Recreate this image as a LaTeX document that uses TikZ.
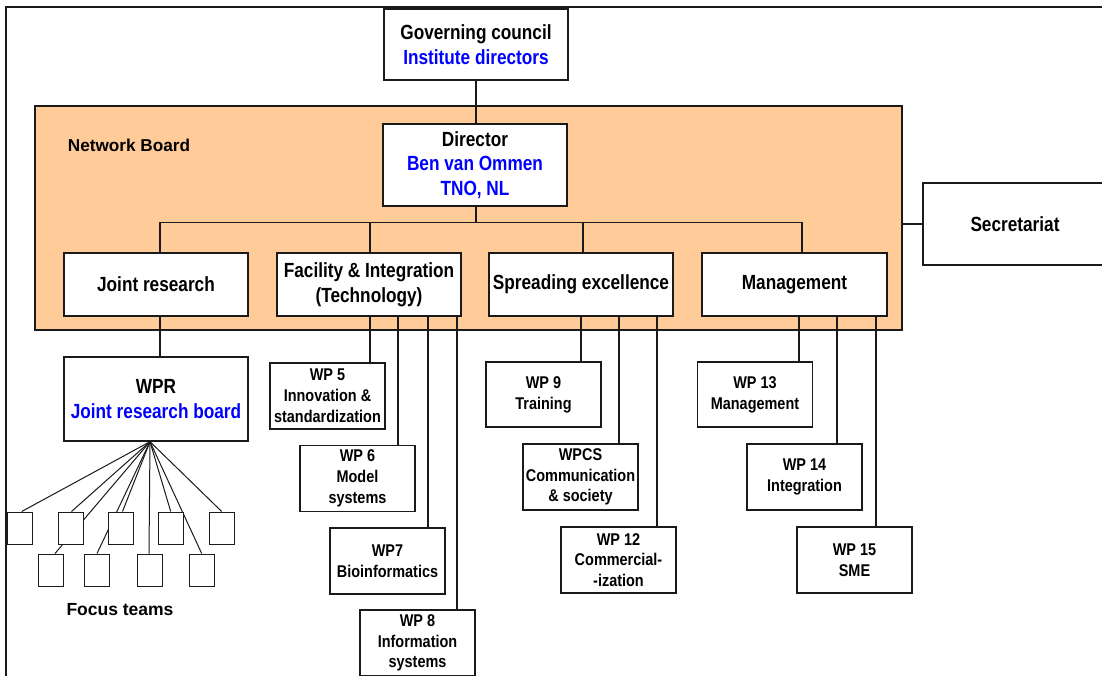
\documentclass[tikz,border=0pt]{standalone}
\usepackage{fontspec}
\setmainfont{Liberation Sans}
\newfontfamily\narrowsans{Liberation Sans}[FakeStretch=0.84]
\newfontfamily\wpsans{Liberation Sans}[FakeStretch=0.85]

\pgfdeclarelayer{board}
\pgfdeclarelayer{wires}
\pgfsetlayers{board,wires,main}

\definecolor{boardfill}{HTML}{FFCC99}
\definecolor{namecol}{HTML}{0000FF}
\definecolor{ink}{HTML}{1A1A1A}

\tikzset{
  unit/.style={draw=ink, fill=white, line width=1.4pt, inner sep=0pt, align=center,
    font=\narrowsans\bfseries\fontsize{20.5}{24.5}\selectfont},
  bigunit/.style={unit, minimum width=184pt, minimum height=63pt},
  wpbox/.style={draw=ink, fill=white, line width=1.4pt, inner sep=0pt, align=center,
    minimum width=115pt, minimum height=66pt,
    font=\wpsans\bfseries\fontsize{17}{20.8}\selectfont},
  team/.style={draw=ink, fill=white, line width=1pt, minimum width=25pt,
    minimum height=32pt, inner sep=0pt},
  wire/.style={draw=ink, line width=1.3pt},
  fanline/.style={draw=ink, line width=1pt},
  caption/.style={font=\bfseries\fontsize{17.5}{20}\selectfont, inner sep=0pt},
}

\begin{document}
\begin{tikzpicture}[x=1pt,y=-1pt]
\useasboundingbox (0,0) rectangle (1102,676);

% outer frame (runs off the page to the right and bottom)
\draw[ink, line width=1.3pt] (1120,7) -- (6,7) -- (6,700);

% network board background
\begin{pgfonlayer}{board}
  \node[draw=ink, fill=boardfill, line width=1.4pt, minimum width=867pt,
        minimum height=224pt, inner sep=0pt] (board) at (468.5,218) {};
\end{pgfonlayer}
\node[caption, font=\bfseries\fontsize{17.2}{20}\selectfont] (nbtitle) at (129,145.5) {Network Board};

% top level
\node[unit, minimum width=184pt, minimum height=71pt] (gov) at (476,44.5)
  {Governing council\\\textcolor{namecol}{Institute directors}};
\node[unit, minimum width=184pt, minimum height=82pt] (dir) at (475,165)
  {Director\\\textcolor{namecol}{Ben van Ommen}\\\textcolor{namecol}{TNO, NL}};
\node[unit, minimum width=184pt, minimum height=82pt] (sec) at (1015,224) {Secretariat};

% activity lines
\node[bigunit] (jr)   at (156,284.5) {Joint research};
\node[bigunit] (fac)  at (369,284.5) {Facility \& Integration\\(Technology)};
\node[bigunit] (spr)  at (581,284.5) {Spreading excellence};
\node[bigunit, minimum width=185pt] (mgmt) at (794.5,284.5) {Management};

% joint research board and focus teams
\node[unit, minimum width=184pt, minimum height=84pt] (wpr) at (156,399)
  {WPR\\\textcolor{namecol}{Joint research board}};
\node[team] (u1) at (20,528) {};
\node[team] (u2) at (70.5,528) {};
\node[team] (u3) at (120.5,528) {};
\node[team] (u4) at (170.5,528) {};
\node[team] (u5) at (221.5,528) {};
\node[team] (l1) at (50.5,570) {};
\node[team] (l2) at (96.5,570) {};
\node[team] (l3) at (149.5,570) {};
\node[team] (l4) at (201.5,570) {};
\node[caption] (ftlabel) at (120,610) {Focus teams};

% work packages
\node[wpbox] (wp5)  at (327.5,396)   {WP 5\\Innovation \&\\standardization};
\node[wpbox] (wp6)  at (357.5,478.5) {WP 6\\Model\\systems};
\node[wpbox] (wp7)  at (387.5,561)   {WP7\\Bioinformatics};
\node[wpbox] (wp8)  at (417.5,643)   {WP 8\\Information\\systems};
\node[wpbox, minimum height=65pt] (wp9)  at (543.5,394.5) {WP 9\\Training};
\node[wpbox] (wpcs) at (580.5,477)   {WPCS\\Communication\\\& society};
\node[wpbox] (wp12) at (618.5,560)   {WP 12\\Commercial-\\-ization};
\node[wpbox, minimum height=65pt] (wp13) at (755,394.5) {WP 13\\Management};
\node[wpbox] (wp14) at (804.5,477)   {WP 14\\Integration};
\node[wpbox] (wp15) at (854.5,560)   {WP 15\\SME};

% connectors
\begin{pgfonlayer}{wires}
  \draw[wire] (gov.south) -- (gov.south |- dir.north);
  \path ([xshift=4pt]jr.north) coordinate (jrTop);
  \path ([xshift=1pt]fac.north) coordinate (facTop);
  \path ([xshift=2pt]spr.north) coordinate (sprTop);
  \path ([xshift=7.5pt]mgmt.north) coordinate (mgmtTop);
  \draw[wire] (jrTop) -- ++(0,-30) coordinate (busL) -- (busL -| mgmtTop) -- (mgmtTop);
  \draw[wire] (gov.south |- dir.south) -- (gov.south |- busL);
  \draw[wire] (facTop) -- (facTop |- busL);
  \draw[wire] (sprTop) -- (sprTop |- busL);
  \draw[wire] (board.east |- sec.west) -- (sec.west);

  \path ([xshift=4pt]jr.south) coordinate (jrBot);
  \draw[wire] (jrBot) -- (jrBot |- wpr.north);

  \foreach \s/\t [count=\i] in {1/wp5, 29/wp6, 59/wp7, 88/wp8} {
    \path ([xshift=\s pt]fac.south) coordinate (fd\i);
    \draw[wire] (fd\i) -- (fd\i |- \t.north);
  }
  \foreach \s/\t [count=\i] in {0/wp9, 38/wpcs, 76/wp12} {
    \path ([xshift=\s pt]spr.south) coordinate (sd\i);
    \draw[wire] (sd\i) -- (sd\i |- \t.north);
  }
  \foreach \s/\t [count=\i] in {4.5/wp13, 42.5/wp14, 81.5/wp15} {
    \path ([xshift=\s pt]mgmt.south) coordinate (md\i);
    \draw[wire] (md\i) -- (md\i |- \t.north);
  }

  \path ([xshift=-6pt]wpr.south) coordinate (apex);
  \foreach \t/\dx in {u1/1.7, u2/1, l1/4.5, u3/2, l2/0.5, l3/-0.5, u4/0.2, l4/0.2, u5/0.2}
    \draw[fanline] (apex) -- ([xshift=\dx pt]\t.north);
\end{pgfonlayer}
\end{tikzpicture}
\end{document}
